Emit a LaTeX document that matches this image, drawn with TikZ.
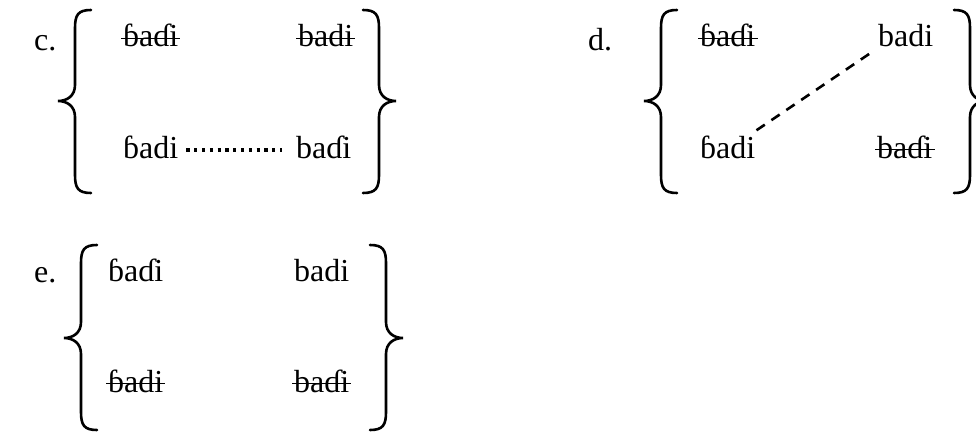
\documentclass[tikz,border=0pt]{standalone}
\usepackage{fontspec}
\setmainfont{Liberation Serif}
\newcommand{\LeftBr}[4]{% x, top, bottom, mid
  \draw[brace] (#1+16,#2) .. controls (#1+3,#2) and (#1,#2+5) .. (#1,#2+18)
    -- (#1,#4-16) .. controls (#1,#4-5) and (#1-8,#4) .. (#1-17,#4)
    .. controls (#1-8,#4) and (#1,#4+5) .. (#1,#4+16)
    -- (#1,#3-18) .. controls (#1,#3-5) and (#1+3,#3) .. (#1+16,#3);}
\newcommand{\RightBr}[4]{% x, top, bottom, mid
  \draw[brace] (#1-16,#2) .. controls (#1-3,#2) and (#1,#2+5) .. (#1,#2+18)
    -- (#1,#4-16) .. controls (#1,#4-5) and (#1+8,#4) .. (#1+17,#4)
    .. controls (#1+8,#4) and (#1,#4+5) .. (#1,#4+16)
    -- (#1,#3-18) .. controls (#1,#3-5) and (#1-3,#3) .. (#1-16,#3);}
\newcommand{\Strike}[1]{\draw[strikeline] ([shift={(-2pt,8.5pt)}]#1.base west) -- ([shift={(2pt,8.5pt)}]#1.base east);}
\begin{document}
\begin{tikzpicture}[x=1pt,y=-1pt,
  word/.style={inner sep=0pt, anchor=base west, font=\fontsize{32}{38}\selectfont},
  brace/.style={line width=2.6pt, line cap=round},
  strikeline/.style={line width=1.8pt},
  dotline/.style={line width=3.2pt, dash pattern=on 3.2pt off 4.6pt},
  dashline/.style={line width=2.6pt, dash pattern=on 10pt off 8pt}]
\useasboundingbox (0,0) rectangle (976,433);
% ---- c ----
\node[word] (clab) at (34,51) {c.};
\LeftBr{75}{10}{193}{101}
\RightBr{379}{10}{193}{101}
\node[word] (c11) at (123,47) {ɓaɗi};
\node[word] (c12) at (298,47) {badi};
\node[word] (c21) at (123,158) {ɓadi};
\node[word] (c22) at (296,158) {baɗi};
\Strike{c11}
\Strike{c12}
\draw[dotline] ([shift={(8pt,8pt)}]c21.base east) -- ([shift={(-14pt,8pt)}]c22.base west);
% ---- d ----
\node[word] (dlab) at (588,51) {d.};
\LeftBr{661}{10}{193}{101}
\RightBr{970}{10}{193}{101}
\node[word] (d11) at (700,47) {ɓaɗi};
\node[word] (d12) at (878,47) {badi};
\node[word] (d21) at (700,158) {ɓadi};
\node[word] (d22) at (877,158) {baɗi};
\Strike{d11}
\Strike{d22}
\draw[dashline] ([shift={(1pt,5pt)}]d21.north east) -- ([shift={(-6pt,-5pt)}]d12.base west);
% ---- e ----
\node[word] (elab) at (34,282) {e.};
\LeftBr{81}{245}{430}{338}
\RightBr{386}{245}{430}{338}
\node[word] (e11) at (108,281) {ɓaɗi};
\node[word] (e12) at (294,281) {badi};
\node[word] (e21) at (108,392) {ɓadi};
\node[word] (e22) at (294,392) {baɗi};
\Strike{e21}
\Strike{e22}
\end{tikzpicture}
\end{document}
